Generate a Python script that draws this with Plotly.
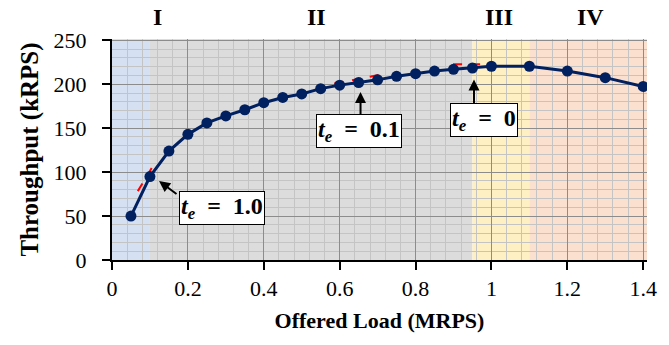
import plotly.graph_objects as go

offered_load = [0.05, 0.1, 0.15, 0.2, 0.25, 0.3, 0.35, 0.4, 0.45, 0.5, 0.55, 0.6,
                0.65, 0.7, 0.75, 0.8, 0.85, 0.9, 0.95, 1.0, 1.1, 1.2, 1.3, 1.4]
throughput = [50, 95, 124, 143, 156, 164, 171, 179, 185, 189, 195, 199,
              202, 205, 209, 212, 215, 217, 218.5, 220.5, 220.5, 215, 207.5, 197.5]

tangent_x = [[0.068, 0.117], [0.586, 0.714], [0.899, 0.995]]
tangent_y = [[78.4, 113.6], [200.8, 211.4], [222.7, 222.7]]

region_bounds = [0.0, 0.1, 0.95, 1.1, 1.41]
region_colors = ["#D6E0F3", "#DDDCDC", "#FFF0C4", "#FBE0CF"]
region_labels = ["I", "II", "III", "IV"]
region_label_x = [0.12, 0.54, 1.02, 1.26]

# t_e annotation: label text, box centre (data), arrow tail and head (data)
te_labels = ["1.0", "0.1", "0"]
te_box_x = [0.289, 0.652, 0.981]
te_box_y = [59.0, 147.0, 159.0]
te_tail_x = [0.174, 0.655, 0.954]
te_tail_y = [73.9, 163.6, 176.1]
te_head_x = [0.124, 0.655, 0.954]
te_head_y = [89.8, 191.3, 205.3]

x_ticks = [0, 0.2, 0.4, 0.6, 0.8, 1.0, 1.2, 1.4]
x_tick_text = ["0", "0.2", "0.4", "0.6", "0.8", "1", "1.2", "1.4"]
y_ticks = [0, 50, 100, 150, 200, 250]

fig = go.Figure()

for tx, ty in zip(tangent_x, tangent_y):
    fig.add_trace(go.Scatter(x=tx, y=ty, mode="lines",
                             line=dict(color="#FF0000", width=2, dash="dash"),
                             showlegend=False, hoverinfo="skip"))

fig.add_trace(go.Scatter(x=offered_load, y=throughput, mode="lines+markers",
                         line=dict(color="#002060", width=3),
                         marker=dict(color="#002060", size=11),
                         showlegend=False))

shapes = []
for i, c in enumerate(region_colors):
    shapes.append(dict(type="rect", xref="x", yref="paper",
                       x0=region_bounds[i], x1=region_bounds[i + 1], y0=0, y1=1,
                       fillcolor=c, line=dict(width=0), layer="below"))

font_serif = "Liberation Serif, Times New Roman, serif"

annotations = []
for lab, lx in zip(region_labels, region_label_x):
    annotations.append(dict(x=lx, y=1.0, xref="x", yref="paper", yshift=22,
                            yanchor="middle",
                            text="<b>" + lab + "</b>", showarrow=False,
                            font=dict(family=font_serif, size=24, color="black")))

for i in range(len(te_labels)):
    # arrow
    annotations.append(dict(
        x=te_head_x[i], y=te_head_y[i], xref="x", yref="y",
        ax=te_tail_x[i], ay=te_tail_y[i], axref="x", ayref="y",
        text="", showarrow=True, arrowhead=2, arrowsize=1.1, arrowwidth=2,
        arrowcolor="black", standoff=0, startstandoff=0))
    # box
    annotations.append(dict(
        x=te_box_x[i], y=te_box_y[i], xref="x", yref="y",
        text="<b><i>t</i><sub><i>e</i></sub>&nbsp; =&nbsp; " + te_labels[i] + "</b>",
        showarrow=False, xanchor="center", yanchor="middle",
        bgcolor="white", bordercolor="black", borderwidth=1, borderpad=1,
        font=dict(family=font_serif, size=24, color="black")))

fig.update_layout(
    width=669, height=345,
    margin=dict(l=112, r=17, t=39, b=85),
    paper_bgcolor="white", plot_bgcolor="white",
    shapes=shapes, annotations=annotations,
    xaxis=dict(range=[0, 1.41], tickvals=x_ticks, ticktext=x_tick_text,
               showgrid=True, gridcolor="#8C8C8C", gridwidth=1,
               minor=dict(dtick=0.04, tick0=0, showgrid=True, gridcolor="#C4C4C4", gridwidth=1),
               showline=True, linecolor="black", linewidth=2,
               ticks="outside", ticklen=8, tickcolor="black", tickwidth=2,
               zeroline=False,
               tickfont=dict(family=font_serif, size=22, color="black"),
               title=dict(text="<b>Offered Load (MRPS)</b>", standoff=12,
                          font=dict(family=font_serif, size=22, color="black"))),
    yaxis=dict(range=[0, 251.5], tickvals=y_ticks,
               showgrid=True, gridcolor="#8C8C8C", gridwidth=1,
               minor=dict(dtick=10, tick0=0, showgrid=True, gridcolor="#C4C4C4", gridwidth=1),
               showline=True, linecolor="black", linewidth=2,
               ticks="outside", ticklen=8, tickcolor="black", tickwidth=2,
               ticklabelstandoff=11,
               zeroline=False,
               tickfont=dict(family=font_serif, size=22, color="black"),
               title=dict(text="<b>Throughput (kRPS)</b>", standoff=8,
                          font=dict(family=font_serif, size=25, color="black"))),
)

fig.write_html("out.html")
